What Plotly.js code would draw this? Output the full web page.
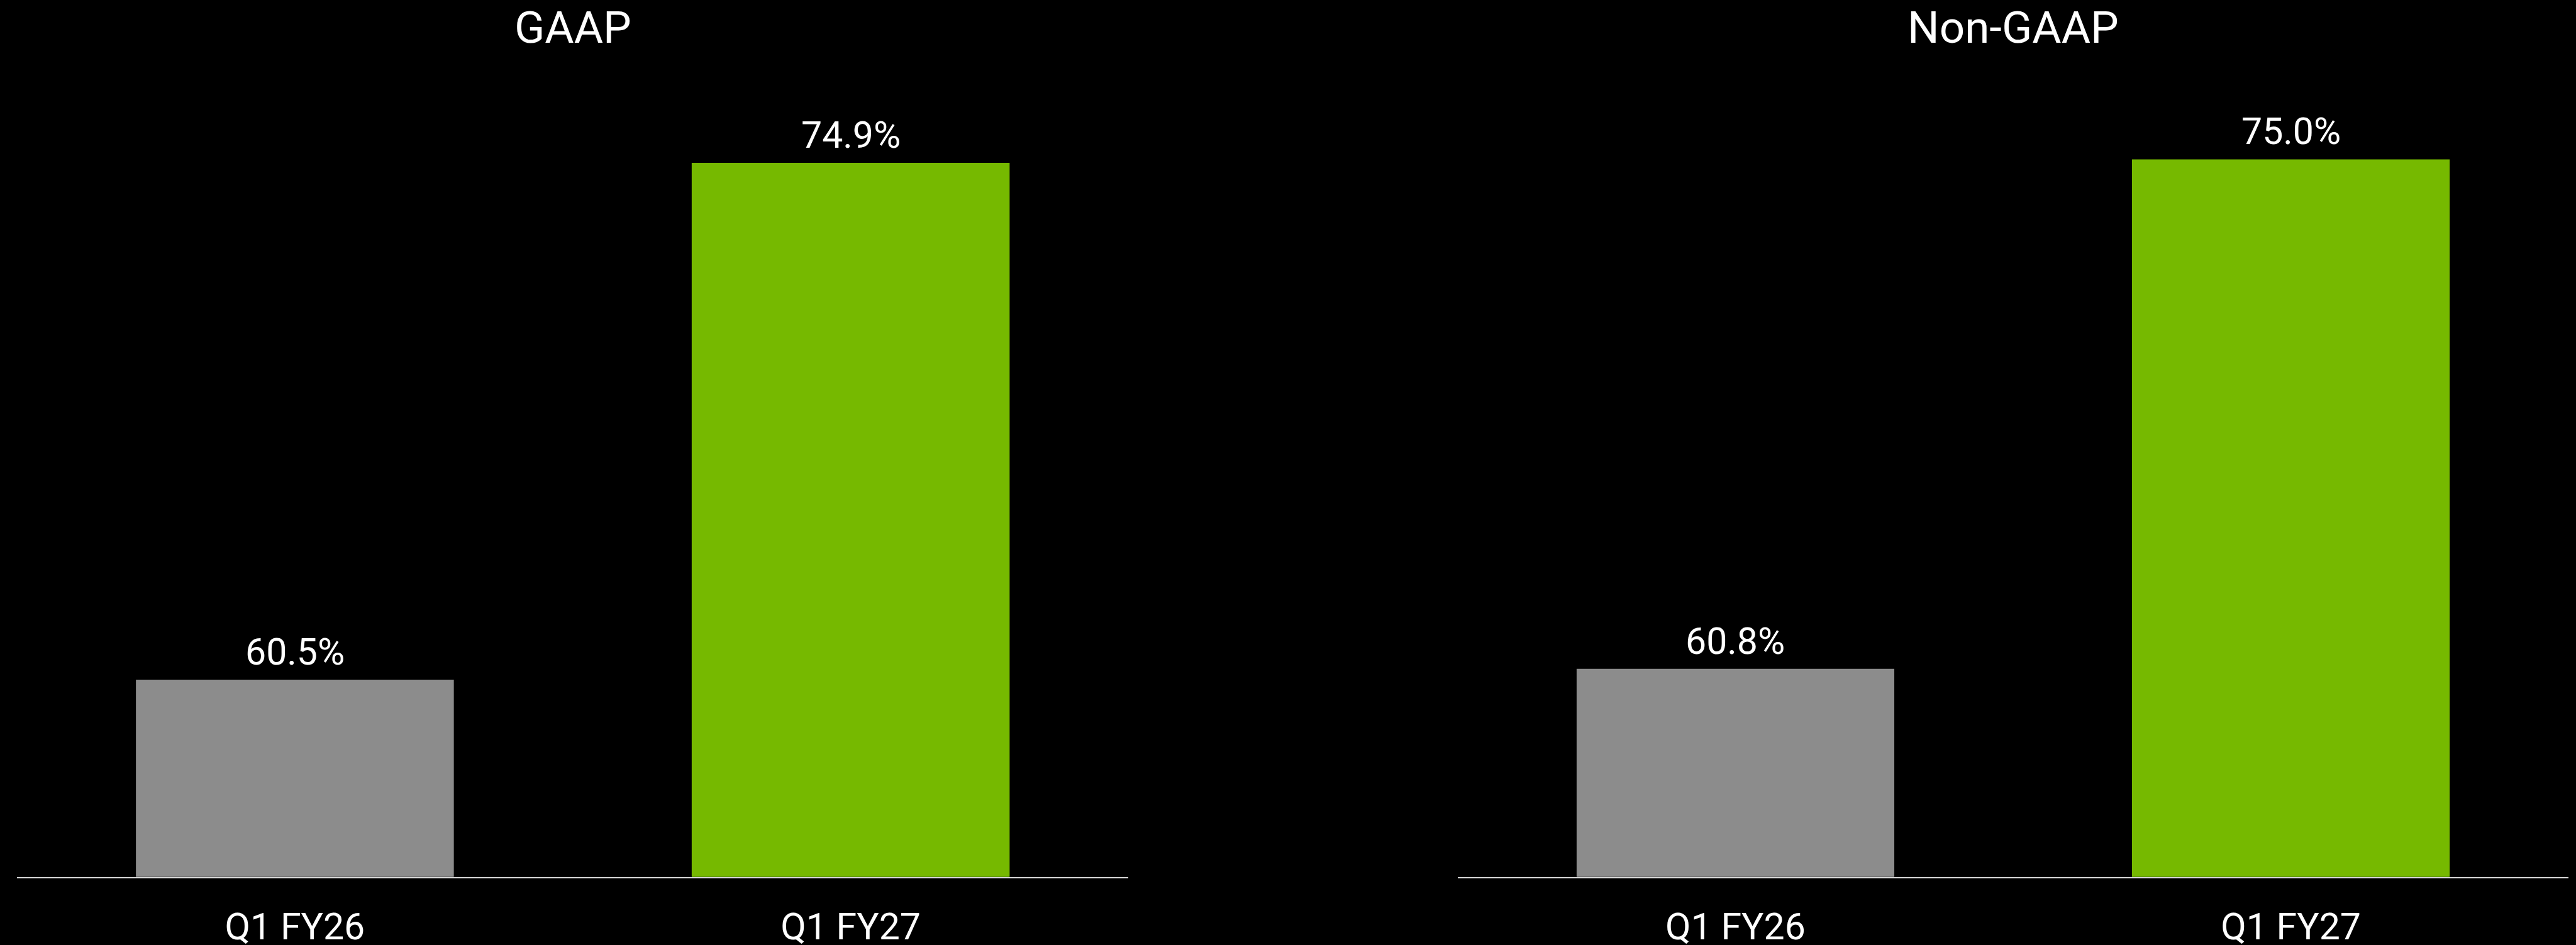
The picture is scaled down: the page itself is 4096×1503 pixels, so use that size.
<!DOCTYPE html>
<html>
<head>
<meta charset="utf-8">
<script src="https://cdn.plot.ly/plotly-3.0.1.min.js"></script>
<style>
html,body{margin:0;padding:0;background:#000;}
#chart{width:4096px;height:1503px;}
</style>
</head>
<body>
<div id="chart"></div>
<script>
// ---- data ----
const categories = ["Q1 FY26", "Q1 FY27"];
const gaapValues = [60.5, 74.9];
const nonGaapValues = [60.8, 75.0];
const valueLabels = v => v.toFixed(1) + "%";
const panelTitles = ["GAAP", "Non-GAAP"];
const barColors = ["#8c8c8c", "#76b900"];

const FONT = "Roboto, 'Open Sans', Arial, sans-serif";
const yRange = [55, 79.44];
const yDomain = [0.072, 1];
const xDomL = [0.0066, 0.4381];
const xDomR = [0.5659, 0.9971];

const traces = [
  {type: "bar", x: categories, y: gaapValues, xaxis: "x", yaxis: "y",
   marker: {color: barColors}, width: 0.572, hoverinfo: "none"},
  {type: "bar", x: categories, y: nonGaapValues, xaxis: "x2", yaxis: "y2",
   marker: {color: barColors}, width: 0.572, hoverinfo: "none"}
];

const annotations = [];
[[gaapValues, "x", "y"], [nonGaapValues, "x2", "y2"]].forEach(([vals, xr, yr]) => {
  vals.forEach((v, i) => {
    annotations.push({
      x: categories[i], y: v, xref: xr, yref: yr,
      text: valueLabels(v), showarrow: false,
      xanchor: "center", yanchor: "bottom", yshift: 8,
      font: {family: FONT, size: 59, color: "#ffffff"}
    });
  });
});
[xDomL, xDomR].forEach((d, i) => {
  annotations.push({
    x: (d[0] + d[1]) / 2, y: 1, xref: "paper", yref: "paper",
    text: panelTitles[i], showarrow: false,
    xanchor: "center", yanchor: "top", yshift: 0,
    font: {family: FONT, size: 71, color: "#ffffff"}
  });
});

const xaxisBase = {
  type: "category", range: [-0.5, 1.5], showgrid: false, zeroline: false,
  showline: true, linecolor: "#d9d9d9", linewidth: 2, ticks: "",
  tickfont: {family: FONT, size: 59, color: "#ffffff"},
  ticklabelstandoff: 26, fixedrange: true
};
const yaxisBase = {
  range: yRange, domain: yDomain, showgrid: false, zeroline: false,
  showline: false, showticklabels: false, ticks: "", fixedrange: true
};

const layout = {
  width: 4096, height: 1503,
  margin: {l: 0, r: 0, t: 0, b: 0, pad: 0},
  paper_bgcolor: "#000000", plot_bgcolor: "#000000",
  showlegend: false,
  font: {family: FONT, color: "#ffffff"},
  xaxis: Object.assign({}, xaxisBase, {domain: xDomL, anchor: "y"}),
  xaxis2: Object.assign({}, xaxisBase, {domain: xDomR, anchor: "y2"}),
  yaxis: Object.assign({}, yaxisBase, {anchor: "x"}),
  yaxis2: Object.assign({}, yaxisBase, {anchor: "x2"}),
  annotations: annotations
};

Plotly.newPlot("chart", traces, layout, {displayModeBar: false, staticPlot: true});
</script>
</body>
</html>
